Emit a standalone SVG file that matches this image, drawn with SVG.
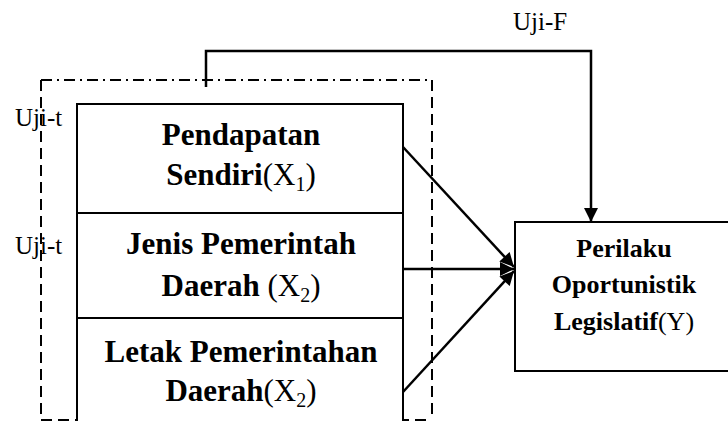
<svg xmlns="http://www.w3.org/2000/svg" width="728" height="421" viewBox="0 0 728 421">
<style>
.t{font-family:"Liberation Serif","Times New Roman",serif;fill:#000}
.b{font-weight:bold}
.lbl{font-size:25px}
.bx{font-size:31px;text-anchor:middle}
.yx{font-size:26px;text-anchor:middle}
.n{font-weight:normal}
.box{fill:#fff;stroke:#000;stroke-width:2}
.con{fill:none;stroke:#000;stroke-width:2.5}
.dash{fill:none;stroke:#000;stroke-width:2;stroke-dasharray:11 6}
.dashdot{fill:none;stroke:#000;stroke-width:2;stroke-dasharray:11 5 2 5}
</style>
<defs>
<marker id="ah" viewBox="0 0 10 10" refX="10" refY="5" markerWidth="6" markerHeight="6" markerUnits="userSpaceOnUse" orient="auto">
<path d="M0,0 L10,5 L0,10 z" fill="#000"/>
</marker>
<marker id="ah2" viewBox="0 0 10 10" refX="10" refY="5" markerWidth="15" markerHeight="14" markerUnits="userSpaceOnUse" orient="auto">
<path d="M0,0 L10,5 L0,10 z" fill="#000"/>
</marker>
</defs>
<rect width="728" height="421" fill="#fff"/>

<g id="frame">
<line class="dashdot" x1="41" y1="80" x2="432" y2="80"/>
<line class="dash" x1="41" y1="80" x2="41" y2="420"/>
<line class="dash" x1="432" y1="80" x2="432" y2="420"/>
<line class="dash" x1="41" y1="420" x2="432" y2="420"/>
</g>

<g id="uji-t-1"><text class="t lbl" x="15" y="126">Uji-t</text></g>
<g id="uji-t-2"><text class="t lbl" x="15" y="254">Uji-t</text></g>
<g id="uji-f"><text class="t lbl" x="513" y="30">Uji-F</text></g>

<g id="x1">
<rect class="box" x="77" y="104" width="326" height="109"/>
<text class="t b bx" x="241" y="145">Pendapatan</text>
<text class="t b bx" x="241" y="185">Sendiri<tspan class="n">(X<tspan font-size="20" dy="6">1</tspan><tspan dy="-6">)</tspan></tspan></text>
</g>
<g id="x2">
<rect class="box" x="77" y="213" width="326" height="105"/>
<text class="t b bx" x="241" y="254">Jenis Pemerintah</text>
<text class="t b bx" x="241" y="296">Daerah <tspan class="n">(X<tspan font-size="20" dy="6">2</tspan><tspan dy="-6">)</tspan></tspan></text>
</g>
<g id="x3">
<rect class="box" x="77" y="318" width="326" height="110"/>
<text class="t b bx" x="241" y="362">Letak Pemerintahan</text>
<text class="t b bx" x="241" y="401">Daerah<tspan class="n">(X<tspan font-size="20" dy="6">2</tspan><tspan dy="-6">)</tspan></tspan></text>
</g>
<g id="y">
<rect class="box" x="515" y="222" width="220" height="149"/>
<text class="t b yx" x="624" y="257">Perilaku</text>
<text class="t b yx" x="624" y="293">Oportunistik</text>
<text class="t b yx" x="624" y="330">Legislatif<tspan class="n">(Y)</tspan></text>
</g>

<g id="connectors">
<line class="con" x1="403" y1="147" x2="514" y2="267" marker-end="url(#ah2)"/>
<line class="con" x1="403" y1="269" x2="514" y2="269" marker-end="url(#ah2)"/>
<line class="con" x1="403" y1="392" x2="514" y2="271" marker-end="url(#ah2)"/>
<polyline class="con" points="206,87 206,51 591,51 591,222" marker-end="url(#ah2)"/>
</g>
</svg>
